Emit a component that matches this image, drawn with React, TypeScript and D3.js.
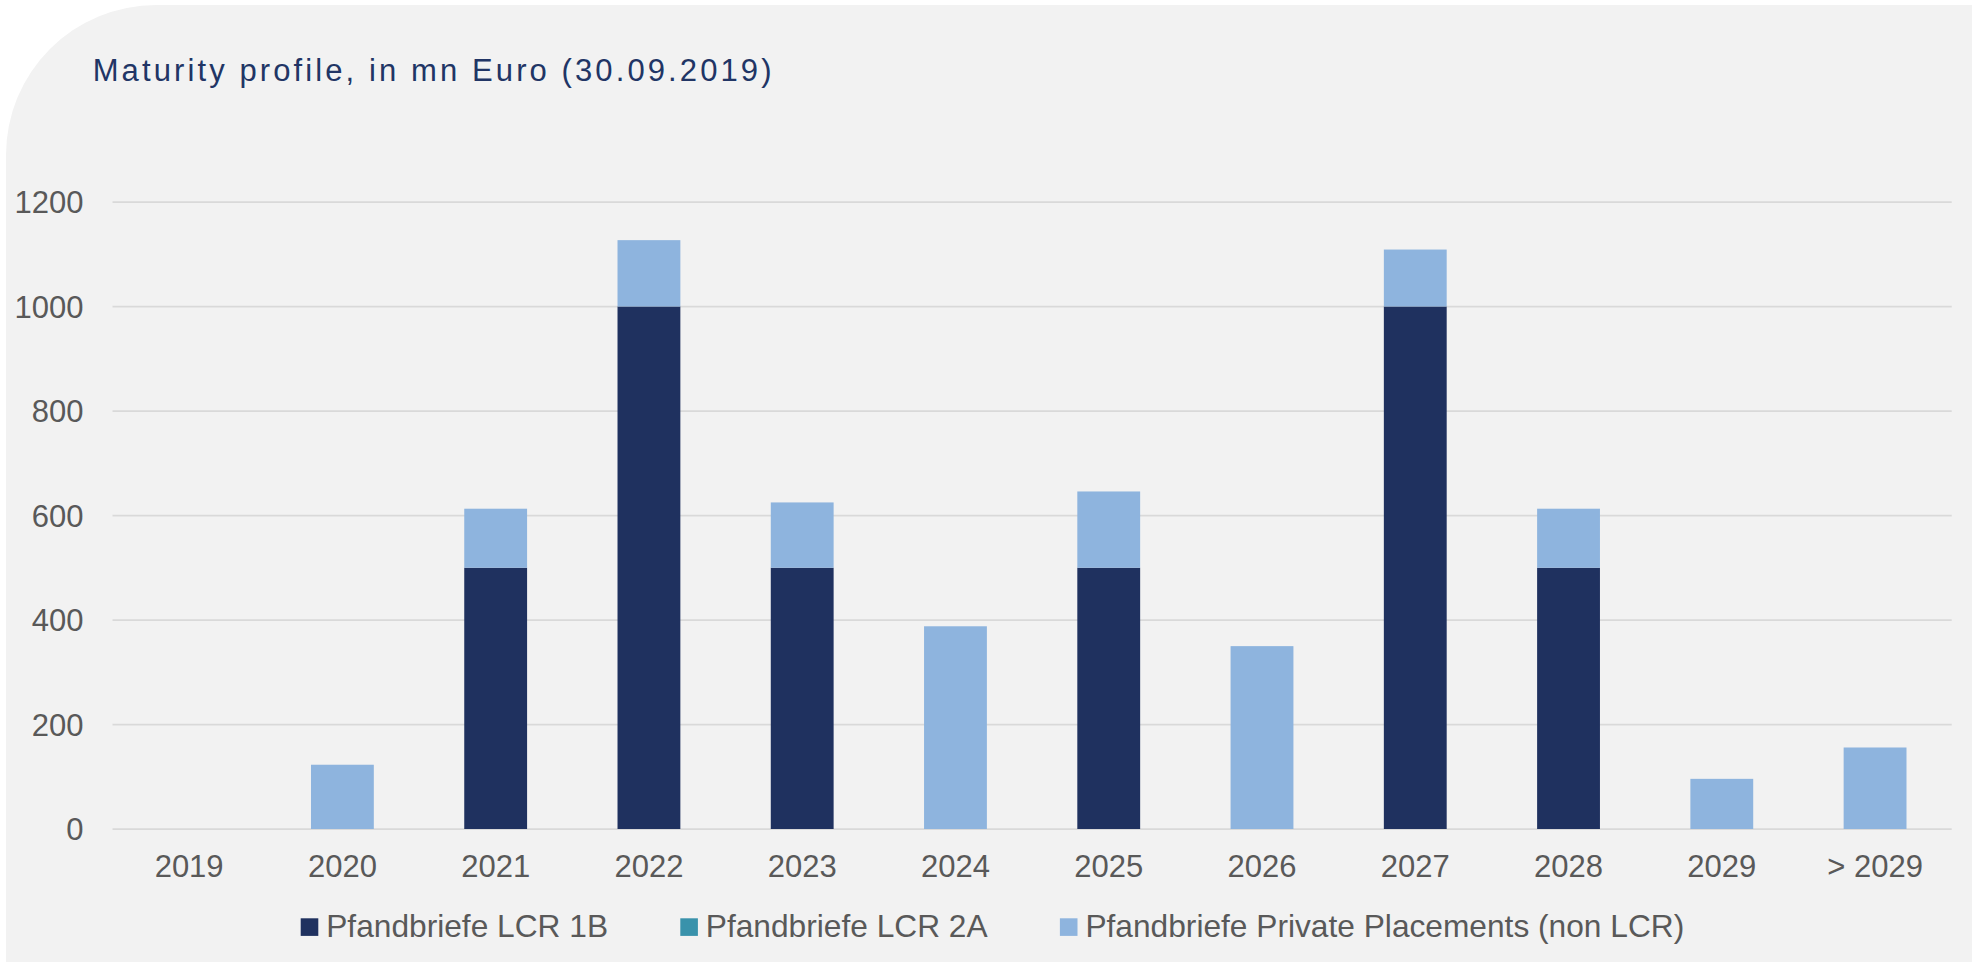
import React from "react";
import * as d3 from "d3";

const categories = ["2019", "2020", "2021", "2022", "2023", "2024", "2025", "2026", "2027", "2028", "2029", "> 2029"];
const lcr1b = [0, 0, 500, 1000, 500, 0, 500, 0, 1000, 500, 0, 0];
const lcr2a = [0, 0, 0, 0, 0, 0, 0, 0, 0, 0, 0, 0];
const privatePlacements = [0, 123, 113, 127, 125, 388, 146, 350, 109, 113, 96, 156];
const seriesNames = ["Pfandbriefe LCR 1B", "Pfandbriefe LCR 2A", "Pfandbriefe Private Placements (non LCR)"];
const seriesColors = ["#1F315F", "#3992AB", "#8EB4DE"];
const yTicks = [0, 200, 400, 600, 800, 1000, 1200];
const title = "Maturity profile, in mn Euro (30.09.2019)";

const W = 1975;
const H = 962;
const FONT = "'Liberation Sans', Arial, sans-serif";

export default function App() {
  const plotLeft = 112.5;
  const plotRight = 1951.7;
  const y = d3.scaleLinear().domain([0, 1200]).range([829, 202]);
  const x = d3
    .scaleBand<string>()
    .domain(categories)
    .range([plotLeft, plotRight])
    .paddingInner(0.59)
    .paddingOuter(0.295);

  const rows = categories.map((c, i) => ({
    cat: c,
    s0: lcr1b[i],
    s1: lcr2a[i],
    s2: privatePlacements[i],
  }));
  const stack = d3.stack<any>().keys(["s0", "s1", "s2"]);
  const layers = stack(rows);

  const px = 6, py = 5, pr = 1972, r = 150;
  const panelPath = `M${px},${H} L${px},${py + r} A${r},${r} 0 0 1 ${px + r},${py} L${pr},${py} L${pr},${H} Z`;

  const legendX0 = 300.7;
  const legendStep = 379.6;

  return (
    <svg
      width={W}
      height={H}
      style={{ position: "absolute", left: 0, top: 0, display: "block" }}
      xmlns="http://www.w3.org/2000/svg"
    >
      <rect x={0} y={0} width={W} height={H} fill="#ffffff" />
      <path d={panelPath} fill="#F2F2F2" />
      <text
        x={92.7}
        y={81}
        fontFamily={FONT}
        fontSize={31}
        letterSpacing={3.1}
        fill="#213565"
      >
        {title}
      </text>

      {yTicks.map((t) => (
        <g key={t}>
          <line x1={plotLeft} x2={plotRight} y1={y(t)} y2={y(t)} stroke="#D9D9D9" strokeWidth={1.75} />
          <text
            x={83.5}
            y={y(t)}
            dy="0.36em"
            textAnchor="end"
            fontFamily={FONT}
            fontSize={31}
            fill="#595959"
          >
            {t}
          </text>
        </g>
      ))}

      {layers.map((layer, li) => (
        <g key={li} fill={seriesColors[li]}>
          {layer.map((d: any, i: number) => {
            const h = y(d[0]) - y(d[1]);
            if (h <= 0) return null;
            return (
              <rect
                key={i}
                x={x(categories[i])}
                y={y(d[1])}
                width={x.bandwidth()}
                height={h}
              />
            );
          })}
        </g>
      ))}

      {categories.map((c) => (
        <text
          key={c}
          x={(x(c) as number) + x.bandwidth() / 2}
          y={877.3}
          textAnchor="middle"
          fontFamily={FONT}
          fontSize={31}
          fill="#595959"
        >
          {c}
        </text>
      ))}

      {seriesNames.map((n, i) => (
        <g key={n} transform={`translate(${legendX0 + i * legendStep},0)`}>
          <rect x={0} y={918.3} width={17.6} height={17.6} fill={seriesColors[i]} />
          <text x={25.5} y={936.7} fontFamily={FONT} fontSize={31.7} fill="#595959">
            {n}
          </text>
        </g>
      ))}
    </svg>
  );
}
